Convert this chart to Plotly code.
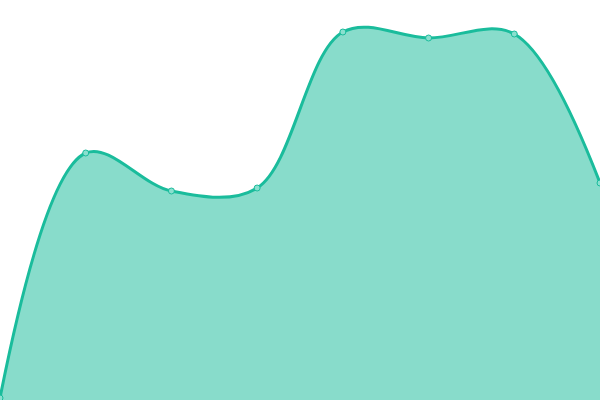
import plotly.graph_objects as go

COLOR_LINEA = '#1abc9c'
COLOR_AREA = 'rgba(26, 188, 156, 0.52)'
COLOR_PUNTO = '#8ae0cf'

categorias = [0, 1, 2, 3, 4, 5, 6, 7]
valores = [2, 247, 209, 212, 368, 362, 366, 217]

fig = go.Figure()

# Área con curva suavizada
fig.add_trace(go.Scatter(
    x=categorias,
    y=valores,
    mode='lines+markers',
    fill='tozeroy',
    fillcolor=COLOR_AREA,
    line=dict(color=COLOR_LINEA, width=3, shape='spline', smoothing=1),
    marker=dict(size=6, color=COLOR_PUNTO, line=dict(color=COLOR_LINEA, width=1)),
    showlegend=False,
    hoverinfo='skip'
))

fig.update_layout(
    width=600,
    height=400,
    margin=dict(l=0, r=0, t=0, b=0),
    paper_bgcolor='white',
    plot_bgcolor='white'
)
fig.update_xaxes(visible=False, range=[0, 7])
fig.update_yaxes(visible=False, range=[0, 400])

# quitar el margen del body para que el gráfico ocupe toda la ventana
fig.write_html("out.html",
               config={'displayModeBar': False},
               post_script="document.body.style.margin='0';")
